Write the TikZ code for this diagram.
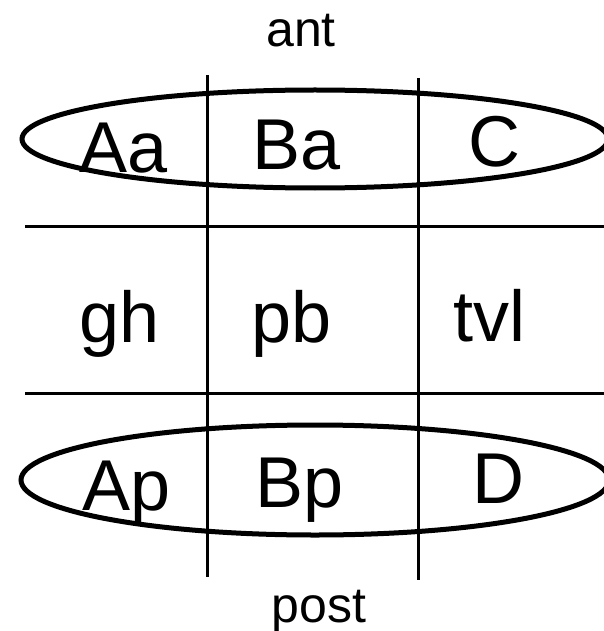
\documentclass[tikz,border=0pt]{standalone}
\usepackage{fontspec}
\setmainfont{Liberation Sans}
\begin{document}
\begin{tikzpicture}[x=1pt,y=-1pt,
        big/.style={font=\fontsize{72}{80}\selectfont,inner sep=0pt,anchor=base},
        small/.style={font=\fontsize{50}{56}\selectfont,inner sep=0pt,anchor=base},
        rule/.style={line width=3pt},
        ring/.style={line width=5pt}]
        \useasboundingbox (0,0) rectangle (604,631);
        % grid
        \draw[rule] (207,75) -- (207,577);
        \draw[rule] (418,78) -- (418,580);
        \foreach \y in {226,393}
        \draw[rule] (25,\y) -- (604,\y);
        % ellipses
        \draw[ring] (315,139) ellipse [x radius=293,y radius=49];
        \draw[ring] (315,480) ellipse [x radius=294,y radius=55];
        % labels
        \node[small] (ant) at (301,47) {ant};
        \node[small] (post) at (319,622) {post};
        \node[big] (Aa) at (124,172) {Aa};
        \node[big] (Ba) at (297,170) {Ba};
        \node[big] (C) at (494,167) {C};
        \node[big] (gh) at (120,342) {gh};
        \node[big] (pb) at (292,342) {pb};
        \node[big] (tvl) at (489,341) {tvl};
        \node[big] (Ap) at (127,510) {Ap};
        \node[big] (Bp) at (300,507) {Bp};
        \node[big] (D) at (498,503) {D};
\end{tikzpicture}
\end{document}
